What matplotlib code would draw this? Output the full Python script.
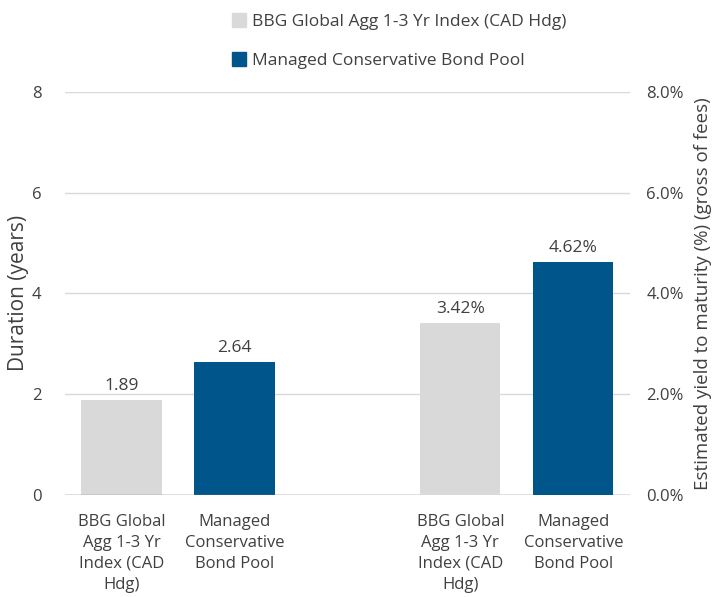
import matplotlib
matplotlib.use("Agg")
import matplotlib.pyplot as plt
from matplotlib.lines import Line2D

plt.rcParams['font.family'] = ['Open Sans', 'DejaVu Sans']

# data
series = ["BBG Global Agg 1-3 Yr Index (CAD Hdg)", "Managed Conservative Bond Pool"]
tick_labels = ["BBG Global\nAgg 1-3 Yr\nIndex (CAD\nHdg)", "Managed\nConservative\nBond Pool"]
duration = [1.89, 2.64]
ytm = [3.42, 4.62]

colors = ["#D9D9D9", "#00558A"]
txt = "#404040"

fig = plt.figure(figsize=(7.14, 5.97), dpi=100)
ax = fig.add_axes([0.091, 0.171, 0.791, 0.675])
ax2 = ax.twinx()

dur_x = [0, 1]
ytm_x = [3, 4]
w = 0.71

b1 = ax.bar(dur_x, duration, width=w, color=colors, zorder=3)
b2 = ax2.bar(ytm_x, ytm, width=w, color=colors, zorder=3)

for rect, v in zip(b1, duration):
    ax.text(rect.get_x() + rect.get_width() / 2, v + 0.12, f"{v:.2f}",
            ha="center", va="bottom", fontsize=12.5, color=txt)
for rect, v in zip(b2, ytm):
    ax2.text(rect.get_x() + rect.get_width() / 2, v + 0.12, f"{v:.2f}%",
             ha="center", va="bottom", fontsize=12.5, color=txt)

ax.set_xlim(-0.5, 4.5)
ax.set_ylim(0, 8)
ax2.set_ylim(0, 8)
ax.set_yticks([0, 2, 4, 6, 8])
ax2.set_yticks([0, 2, 4, 6, 8])
ax2.set_yticklabels([f"{t:.1f}%" for t in [0, 2, 4, 6, 8]])

ax.set_xticks(dur_x + ytm_x)
ax.set_xticklabels(tick_labels * 2, fontsize=11, color=txt, linespacing=1.4)

ax.grid(axis="y", color="#D9D9D9", linewidth=1, zorder=0)
for a in (ax, ax2):
    for s in a.spines.values():
        s.set_visible(False)
    a.tick_params(length=0, colors=txt, labelsize=12)
ax.tick_params(axis="y", pad=17)
ax.tick_params(axis="x", pad=14)
ax2.tick_params(axis="y", pad=12)
ax.axhline(0, color="#808080", linewidth=1, zorder=4)

ax.set_ylabel("Duration (years)", fontsize=15, color=txt, labelpad=2)
ax2.set_ylabel("Estimated yield to maturity (%) (gross of fees)", fontsize=13.5,
               color=txt, labelpad=7)

handles = [Line2D([], [], marker="s", linestyle="none", markersize=10,
                  markerfacecolor=c, markeredgecolor=c) for c in colors]
fig.legend(handles, series, loc="upper left", bbox_to_anchor=(0.3, 1.003),
           frameon=False, fontsize=12.5, handletextpad=0.25, labelspacing=1.3,
           labelcolor=txt, handlelength=1.0)

fig.savefig("out.png", dpi=100)
